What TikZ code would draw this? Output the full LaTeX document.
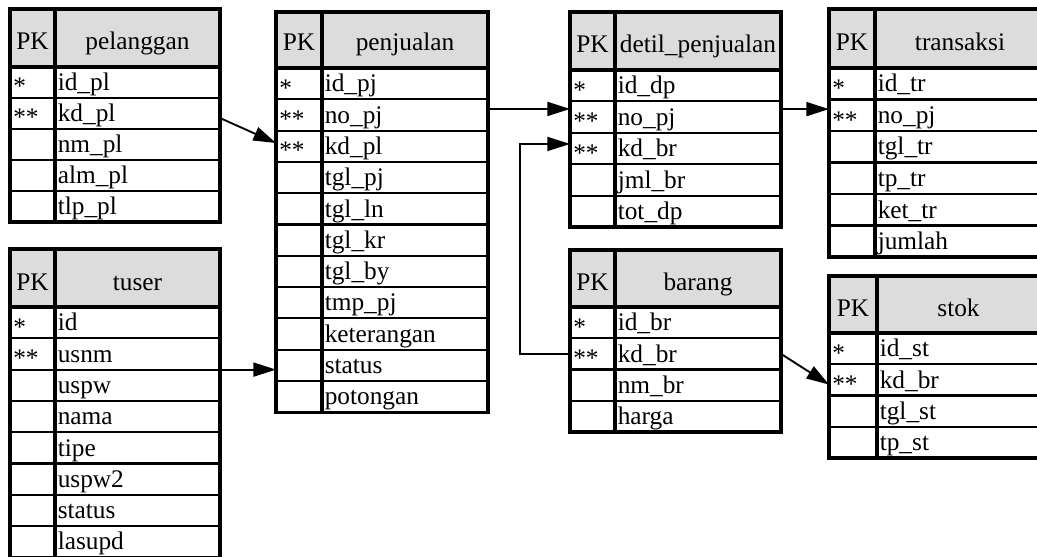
\documentclass[tikz,border=0pt]{standalone}
\usepackage{fontspec}
\setmainfont{Liberation Serif}
\usetikzlibrary{arrows.meta,fit}

\definecolor{headgray}{RGB}{220,220,220}

\tikzset{
  outline/.style={line width=2.6pt},
  rowline/.style={line width=1.6pt},
  pkline/.style={line width=2.8pt},
  rowbox/.style={inner sep=0pt, outer sep=0pt},
  labeltext/.style={inner sep=0pt, font=\fontsize{19}{21}\selectfont},
  headtext/.style={labeltext, anchor=base},
  fieldtext/.style={labeltext, anchor=base west},
  fk/.style={line width=1.4pt, -{Triangle[length=17pt,width=10.5pt]}},
}

% #1 prefix, #2 x left, #3 x of the PK divider, #4 x right, #5 y top,
% #6 y of the header bottom, #7 row height, #8 title,
% #9 rows as key/stars/field (stars: 0, 1 or 2)
\newcommand{\erdtable}[9]{%
  \fill[headgray] (#2,#5) rectangle (#4,#6);
  \node[headtext] (#1-pkhead) at ({(#2+#3)/2},#6-17) {PK};
  \node[headtext] (#1-title) at ({(#3+#4)/2},#6-17) {#8};
  \foreach \key/\stars/\field [count=\i] in {#9} {
    \pgfmathsetmacro{\ya}{#6+(\i-1)*#7}
    \pgfmathsetmacro{\yb}{#6+\i*#7}
    \node[rowbox, fit={(#2,\ya) (#4,\yb)}] (#1-\key) {};
    \node[fieldtext] (#1-\key-f) at (#3+2.5,\yb-7.5) {\field};
    \ifnum\stars>0
      \node[fieldtext] (#1-\key-k) at (#2+3,\yb-3) {\ifcase\stars\or*\or**\fi};
    \fi
    \draw[rowline] (#2,\yb) -- (#4,\yb);
    \xdef\tabbottom{\yb}
  }
  \draw[outline] (#2,#6) -- (#4,#6);
  \draw[pkline] (#3,#5) -- (#3,\tabbottom);
  \draw[outline] (#2,#5) rectangle (#4,\tabbottom);
}

\begin{document}
\begin{tikzpicture}[x=0.75pt,y=-0.75pt]
\useasboundingbox (0,0) rectangle (1037,556);
\clip (0,0) rectangle (1037,556);

\erdtable{pl}{10}{55}{220}{9}{67}{31}{pelanggan}
  {id/1/id\_pl, kd/2/kd\_pl, nm/0/nm\_pl, alm/0/alm\_pl, tlp/0/tlp\_pl}

\erdtable{tu}{10}{55}{220}{249}{307}{31.3}{tuser}
  {id/1/id, usnm/2/usnm, uspw/0/uspw, nama/0/nama, tipe/0/tipe,
   uspw2/0/uspw2, status/0/status, lasupd/0/lasupd}

\erdtable{pj}{276}{322}{488}{12}{68}{31.3}{penjualan}
  {id/1/id\_pj, no/2/no\_pj, kd/2/kd\_pl, tglpj/0/tgl\_pj, tglln/0/tgl\_ln,
   tglkr/0/tgl\_kr, tglby/0/tgl\_by, tmp/0/tmp\_pj, ket/0/keterangan,
   status/0/status, pot/0/potongan}

\erdtable{dp}{570}{615}{781}{12}{70}{31.4}{detil\_penjualan}
  {id/1/id\_dp, no/2/no\_pj, kd/2/kd\_br, jml/0/jml\_br, tot/0/tot\_dp}

\erdtable{br}{570}{615}{781}{250}{307}{31.25}{barang}
  {id/1/id\_br, kd/2/kd\_br, nm/0/nm\_br, harga/0/harga}

\erdtable{tr}{829}{875}{1045}{9}{68}{31.5}{transaksi}
  {id/1/id\_tr, no/2/no\_pj, tgl/0/tgl\_tr, tp/0/tp\_tr, ket/0/ket\_tr,
   jml/0/jumlah}

\erdtable{st}{829}{877}{1040}{276}{333}{31.25}{stok}
  {id/1/id\_st, kd/2/kd\_br, tgl/0/tgl\_st, tp/0/tp\_st}

% foreign keys
\draw[fk] ([yshift=-3.4pt]pl-kd.east) -- ([yshift=2.4pt]pj-kd.west);
\draw[fk] (tu-usnm.south east) -- (tu-usnm.south east -| pj-status.west);

\coordinate (pjno) at ([yshift=4.5pt]pj-no.east);
\draw[fk] (pjno) -- (pjno -| dp-no.west);

\coordinate (dpkd) at ([yshift=3.4pt]dp-kd.west);
\draw[fk] (br-kd.west) -- ++(-50,0) |- (dpkd);

\coordinate (dpno) at ([yshift=6pt]dp-no.east);
\draw[fk] (dpno) -- (dpno -| tr-no.west);

\draw[fk] (br-kd.east) -- ([yshift=-3.5pt]st-kd.west);
\end{tikzpicture}
\end{document}
